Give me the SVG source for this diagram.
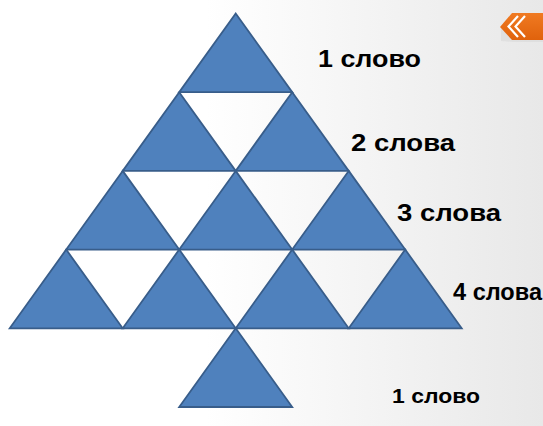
<svg xmlns="http://www.w3.org/2000/svg" width="543" height="426" viewBox="0 0 543 426">
<defs>
<linearGradient id="bg" x1="0" y1="0" x2="1" y2="0">
<stop offset="0.38" stop-color="#ffffff"/>
<stop offset="1" stop-color="#e8e8e8"/>
</linearGradient>
<linearGradient id="org" x1="0" y1="0" x2="0" y2="1">
<stop offset="0" stop-color="#f07a22"/>
<stop offset="1" stop-color="#e0620c"/>
</linearGradient>
</defs>
<style>
.tri{fill:#4f81bd;stroke:#385d8a;stroke-width:1.8;stroke-linejoin:miter}
.lbl{font-family:"Liberation Sans",Arial,sans-serif;font-weight:bold;fill:#000}
</style>
<rect x="0" y="0" width="543" height="426" fill="url(#bg)"/>
<g id="back-button">
<polygon points="501,41 514,42 543,42 543,15 514,14 501,28" fill="#d8d8d8" opacity="0.6"/>
<polygon points="500,27 512,13 543,13 543,40 512,40" fill="url(#org)"/>
<polyline points="518,16 508.5,26.5 518,37" fill="none" stroke="#fff" stroke-width="2.2"/>
<polyline points="525,16 515.5,26.5 525,37" fill="none" stroke="#fff" stroke-width="2.2"/>
</g>
<g id="row1">
<polygon id="t1" class="tri" points="235.7,13.5 179.2,92.2 292.2,92.2"/>
</g>
<g id="row2">
<polygon id="t2a" class="tri" points="179.2,92.2 122.7,170.9 235.7,170.9"/>
<polygon id="t2b" class="tri" points="292.2,92.2 235.7,170.9 348.7,170.9"/>
</g>
<g id="row3">
<polygon id="t3a" class="tri" points="122.7,170.9 66.2,249.6 179.2,249.6"/>
<polygon id="t3b" class="tri" points="235.7,170.9 179.2,249.6 292.2,249.6"/>
<polygon id="t3c" class="tri" points="348.7,170.9 292.2,249.6 405.2,249.6"/>
</g>
<g id="row4">
<polygon id="t4a" class="tri" points="66.2,249.6 9.7,328.3 122.7,328.3"/>
<polygon id="t4b" class="tri" points="179.2,249.6 122.7,328.3 235.7,328.3"/>
<polygon id="t4c" class="tri" points="292.2,249.6 235.7,328.3 348.7,328.3"/>
<polygon id="t4d" class="tri" points="405.2,249.6 348.7,328.3 461.7,328.3"/>
</g>
<g id="trunk">
<polygon id="t5" class="tri" points="235.7,328.3 179.2,407 292.2,407"/>
</g>
<g id="labels">
<text class="lbl" x="318" y="66.5" font-size="24.5" textLength="103" lengthAdjust="spacingAndGlyphs">1 слово</text>
<text class="lbl" x="351" y="151" font-size="24.5" textLength="104" lengthAdjust="spacingAndGlyphs">2 слова</text>
<text class="lbl" x="397" y="221" font-size="24.5" textLength="104" lengthAdjust="spacingAndGlyphs">3 слова</text>
<text class="lbl" x="453" y="300" font-size="23" textLength="89" lengthAdjust="spacingAndGlyphs">4 слова</text>
<text class="lbl" x="392" y="403" font-size="21" textLength="88" lengthAdjust="spacingAndGlyphs">1 слово</text>
</g>
</svg>
